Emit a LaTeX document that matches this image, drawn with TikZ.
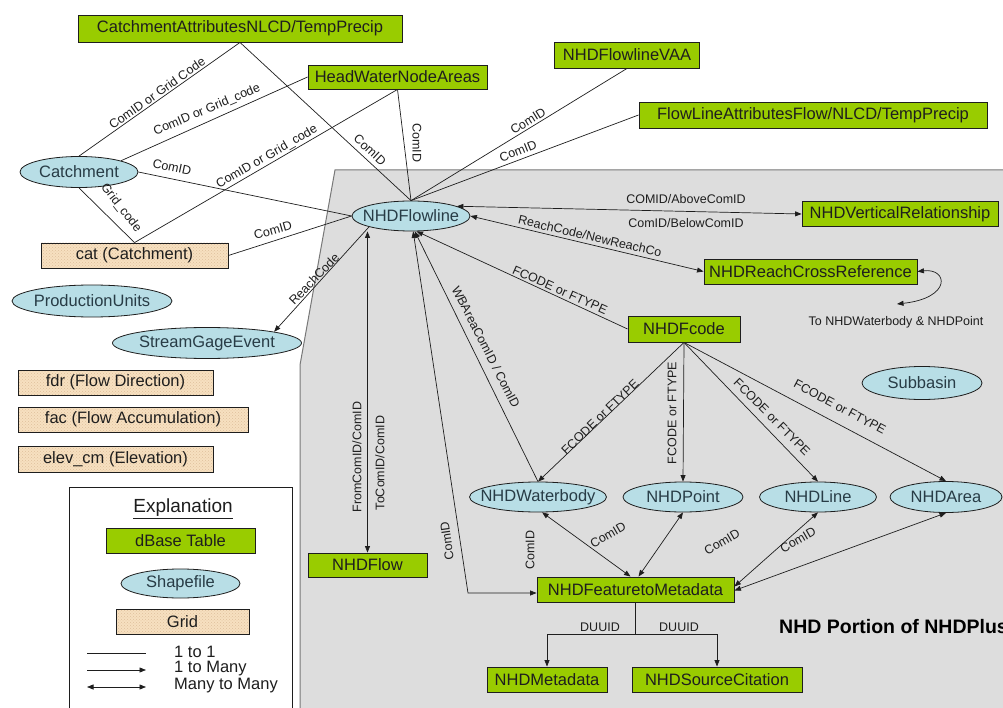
\documentclass[tikz,border=0pt]{standalone}
\usepackage{fontspec}
\setmainfont{Liberation Sans}
\usetikzlibrary{arrows.meta,shapes.geometric,patterns,calc}
\definecolor{gboxfill}{RGB}{153,204,0}
\definecolor{ellfill}{RGB}{184,222,230}
\definecolor{gridfill}{RGB}{247,224,192}
\definecolor{griddot}{RGB}{222,192,156}
\definecolor{regionfill}{RGB}{221,221,221}
\definecolor{regionline}{RGB}{120,120,120}
\definecolor{ink}{RGB}{30,30,30}
\definecolor{ellink}{RGB}{40,60,70}
\newcommand{\mk}[1]{\makebox[0pt]{#1}}
\begin{document}
\begin{tikzpicture}[x=1pt,y=-1pt,
  >={Triangle[length=6.5pt,width=5pt]},
  sz/.style 2 args={minimum width=#1pt, minimum height=#2pt},
  conn/.style={draw=ink, line width=0.7pt},
  gbox/.style={rectangle, draw=ink, line width=0.9pt, fill=gboxfill, inner sep=0pt, text=ink, font=\fontsize{16.5}{18}\selectfont},
  shp/.style={ellipse, draw=ink, line width=0.8pt, fill=ellfill, inner sep=0pt, text=ellink, font=\fontsize{16.5}{18}\selectfont},
  gridbox/.style={rectangle, draw=ink, line width=0.8pt, preaction={fill=gridfill}, pattern=crosshatch dots, pattern color=griddot, inner sep=0pt, text=ink, font=\fontsize{16.5}{18}\selectfont},
  lbl/.style={inner sep=0pt, text=ink, font=\fontsize{12.5}{14}\selectfont},
  legtxt/.style={inner sep=0pt, text=ink, anchor=west, font=\fontsize{16.5}{18}\selectfont},
]
\useasboundingbox (0,0) rectangle (1003,708);
\fill[white] (0,0) rectangle (1003,708);
% NHD region
\fill[regionfill] (335,170) -- (1003,170) -- (1003,708) -- (300,708) -- (300,365) -- cycle;
\draw[regionline, line width=1pt] (1003,170) -- (335,170) -- (300,365) -- (300,708);

% dBase tables
\node[gbox, sz={324}{27}] (cattr) at (240,28.5) {\mk{CatchmentAttributesNLCD/TempPrecip}};
\node[gbox, sz={179}{24}] (hwna) at (397.5,77) {\mk{HeadWaterNodeAreas}};
\node[gbox, sz={145}{26}] (vaa) at (627,55) {\mk{NHDFlowlineVAA}};
\node[gbox, sz={348}{26}] (flattr) at (813,115) {\mk{FlowLineAttributesFlow/NLCD/TempPrecip}};
\node[gbox, sz={196}{25}] (vrel) at (900,214) {\mk{NHDVerticalRelationship}};
\node[gbox, sz={213}{25}] (rcr) at (810.5,271.5) {\mk{NHDReachCrossReference}};
\node[gbox, sz={112}{26}] (fcode) at (684,329) {\mk{NHDFcode}};
\node[gbox, sz={119}{24}] (flow) at (367.5,565) {\mk{NHDFlow}};
\node[gbox, sz={197}{25}] (ftm) at (635.5,589.5) {\mk{NHDFeaturetoMetadata}};
\node[gbox, sz={120}{25}] (meta) at (547,679.5) {\mk{NHDMetadata}};
\node[gbox, sz={170}{25}] (src) at (717,679.5) {\mk{NHDSourceCitation}};

% shapefiles
\node[shp, sz={118}{31}] (catch) at (79,172) {\mk{Catchment}};
\node[shp, sz={118}{30}] (fl) at (411,216) {\mk{NHDFlowline}};
\node[shp, sz={160}{32}] (pu) at (92,301) {\mk{ProductionUnits}};
\node[shp, sz={189}{31}] (sge) at (207,343) {\mk{StreamGageEvent}};
\node[shp, sz={120}{33}] (sub) at (922,383) {\mk{Subbasin}};
\node[shp, sz={137}{30}] (wb) at (538,497) {\mk{NHDWaterbody}};
\node[shp, sz={120}{30}] (pt) at (683,497) {\mk{NHDPoint}};
\node[shp, sz={117}{30}] (ln) at (818,497) {\mk{NHDLine}};
\node[shp, sz={112}{31}] (ar) at (946,497) {\mk{NHDArea}};

% grids
\node[gridbox, sz={187}{25}] (cat) at (134.5,255.5) {\mk{cat (Catchment)}};
\node[gridbox, sz={195}{25}] (fdr) at (115.5,382.5) {\mk{fdr (Flow Direction)}};
\node[gridbox, sz={230}{25}] (fac) at (133,419.5) {\mk{fac (Flow Accumulation)}};
\node[gridbox, sz={195}{26}] (elev) at (115.5,459) {\mk{elev\_cm (Elevation)}};

% free text
\node[lbl] (tonhdtxt) at (896,322) {To NHDWaterbody \& NHDPoint};
\coordinate (tonhd) at (897,304);
\node[inner sep=0pt, anchor=west, text=black, font=\fontsize{19.5}{21}\selectfont\bfseries] (title) at (779,627) {NHD Portion of NHDPlus};

% connectors outside
\draw[conn] (cattr.south) -- (catch.north);
\draw[conn] (cattr.south) -- (fl.north);
\draw[conn] (catch.north east) -- (hwna.west);
\draw[conn] (hwna.south) -- (fl.north);
\draw[conn] (catch.east) -- (fl.west);
\draw[conn] (catch.south) -- (cat.north);
\draw[conn] (cat.north) -- (hwna.south);
\draw[conn] (cat.east) -- (fl.west);
\draw[conn] (fl.north) -- (vaa.south);
\draw[conn] (fl.north) -- (flattr.west);
\draw[conn,<->] (fl.12) -- (vrel.west);
\draw[conn,<->] (fl.east) -- (rcr.west);
\draw[conn,<->] (rcr.east) .. controls (948,268) and (952,298) .. (tonhd);
\draw[conn,->] (fl.south west) -- (sge.north east);
\draw[conn,<->] (flow.north |- fl.south) -- (flow.north);
\draw[conn,->] (fcode.west) -- (fl.-70);
\draw[conn,->] (wb.north) -- (fl.-76);
\coordinate (bend) at (468,593);
\draw[conn,<->] (fl.-82) -- (bend) -- (bend -| ftm.west);
\draw[conn,->] (fcode.south) -- (wb.north);
\draw[conn,->] (fcode.south) -- (pt.north);
\draw[conn,->] (fcode.south) -- (ln.north);
\draw[conn,->] (fcode.south) -- (ar.north);
\draw[conn,<->] ([xshift=-5pt]ftm.north) -- (wb.-75);
\draw[conn,<->] ([xshift=3pt]ftm.north) -- (pt.south);
\draw[conn,<->] ([yshift=3pt]ftm.east) -- (ln.south);
\draw[conn,<->] ([yshift=-1pt]ftm.east) -- (ar.south);
\draw[conn,->] (ftm.south) -- ++(0,32) -| (meta.north);
\draw[conn,->] (ftm.south) -- ++(0,32) -| (src.north);

% labels
\node[lbl, rotate=35] (l1) at (157,93) {ComID or Grid Code};
\node[lbl, rotate=-43] (l2) at (370,150) {ComID};
\node[lbl, rotate=23] (l3) at (207,110) {ComID or Grid\_code};
\node[lbl, rotate=-90] (l4) at (417,143) {ComID};
\node[lbl, rotate=-12] (l5) at (172,167) {ComID};
\node[lbl, rotate=-52] (l6) at (121,208) {Grid\_code};
\node[lbl, rotate=30] (l7) at (267,157) {ComID or Grid\_code};
\node[lbl, rotate=16] (l8) at (273,230) {ComID};
\node[lbl, rotate=32] (l9) at (528,121) {ComID};
\node[lbl, rotate=22] (l10) at (518,151) {ComID};
\node[lbl] (l11) at (686,199) {COMID/AboveComID};
\node[lbl] (l12) at (686,223) {ComID/BelowComID};
\node[lbl, rotate=-13] (l13) at (590,236) {ReachCode/NewReachCo};
\node[lbl, rotate=-24] (l14) at (560,290) {FCODE or FTYPE};
\node[lbl, rotate=-63] (l15) at (486,347) {WBAreaComID / ComID};
\node[lbl, rotate=46] (l16) at (314,279) {ReachCode};
\node[lbl, rotate=90] (l17) at (357,457) {FromComID/ComID};
\node[lbl, rotate=90] (l18) at (380,463) {ToComID/ComID};
\node[lbl, rotate=44] (l19) at (600,417) {FCODE or FTYPE};
\node[lbl, rotate=90] (l20) at (672,413) {FCODE or FTYPE};
\node[lbl, rotate=-45] (l21) at (772,417) {FCODE or FTYPE};
\node[lbl, rotate=-28] (l22) at (840,407) {FCODE or FTYPE};
\node[lbl, rotate=98] (l23) at (447,541) {ComID};
\node[lbl, rotate=90] (l24) at (530,550) {ComID};
\node[lbl, rotate=30] (l25) at (608,535) {ComID};
\node[lbl, rotate=30] (l26) at (722,542) {ComID};
\node[lbl, rotate=30] (l27) at (798,540) {ComID};
\node[lbl] (l28) at (600,627) {DUUID};
\node[lbl] (l29) at (679,627) {DUUID};

% legend
\node[draw=ink, line width=0.9pt, fill=white, inner sep=0pt, sz={223}{225}, anchor=north west] (legend) at (69,487) {};
\node[inner sep=0pt, text=ink, font=\fontsize{19}{21}\selectfont] (expl) at (183,509) {\underline{Explanation}};
\node[gbox, sz={149}{25}] (legdb) at (180.5,540.5) {\mk{dBase Table}};
\node[shp, sz={119}{29}] (legshp) at (180.5,583.5) {\mk{Shapefile}};
\node[gridbox, sz={133}{25}] (leggrid) at (182.5,621.5) {\mk{Grid}};
\coordinate (la1) at (87,653); \coordinate (lb1) at (146,653);
\coordinate (la2) at (87,670); \coordinate (lb2) at (146,670);
\coordinate (la3) at (87,687); \coordinate (lb3) at (146,687);
\draw[conn] (la1) -- (lb1);
\draw[conn,->] (la2) -- (lb2);
\draw[conn,<->] (la3) -- (lb3);
\node[legtxt] (t1) at (174,652) {1 to 1};
\node[legtxt] (t2) at (174,669) {1 to Many};
\node[legtxt] (t3) at (174,686) {Many to Many};
\end{tikzpicture}
\end{document}
